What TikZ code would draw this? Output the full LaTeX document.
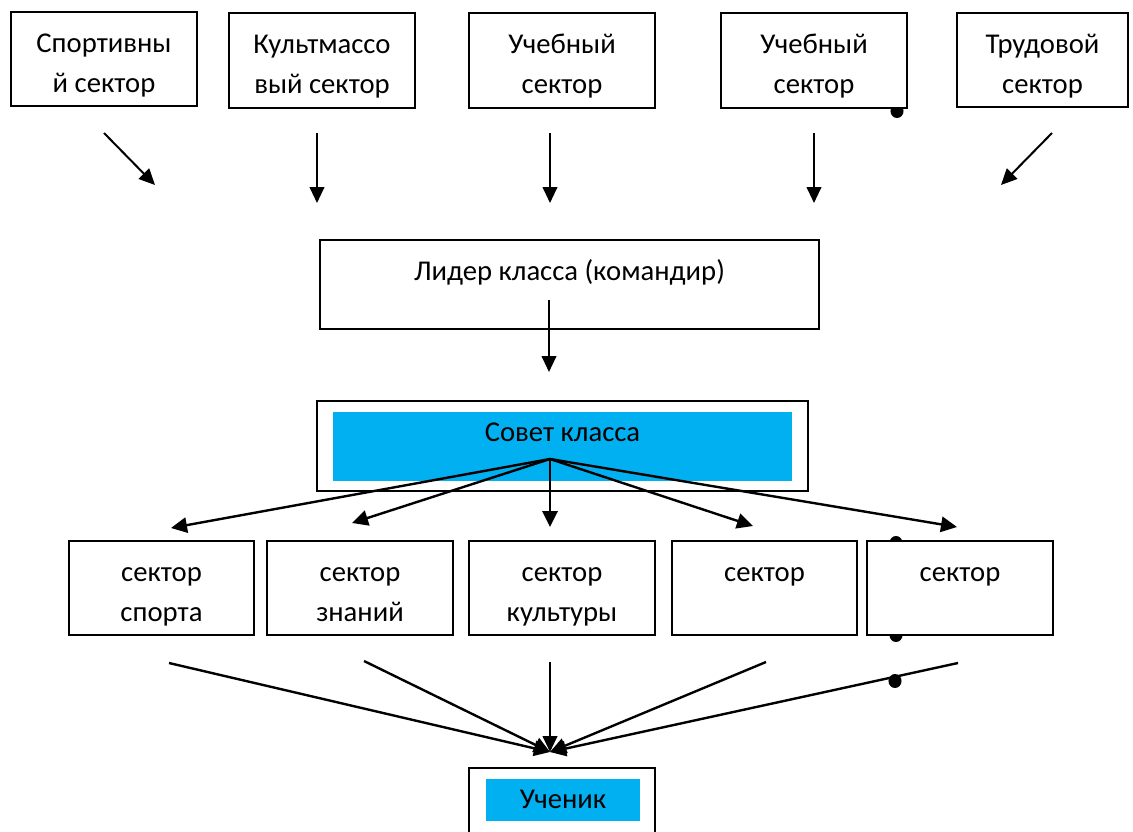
\documentclass[tikz,border=0pt]{standalone}
\usepackage{fontspec}
\setmainfont{Carlito}
\usetikzlibrary{arrows.meta}
\definecolor{wblue}{HTML}{00B0F0}
\newcommand{\boxtxt}[4]{\parbox[c][#2][t]{#1}{\centering\rule{0pt}{#3}#4\par}}
\tikzset{
  sbox/.style={draw, line width=1pt, fill=white, inner sep=0pt},
  bluebox/.style={fill=wblue, inner sep=0pt},
  arr/.style={line width=1.5pt, -{Triangle[length=12pt,width=11pt]}},
  fanarr/.style={line width=1.8pt, -{Triangle[length=12pt,width=11.5pt]}}
}
\begin{document}
\begin{tikzpicture}[x=0.75pt,y=-0.75pt,font=\fontsize{21.5}{30}\selectfont]
\useasboundingbox (0,0) rectangle (1133,832);
\clip (0,0) rectangle (1133,832);
% dots (behind boxes)
\fill (897,111) ellipse [x radius=4.9pt, y radius=5.25pt];
\fill (896,543) ellipse [x radius=4.9pt, y radius=5.25pt];
\fill (896,635) ellipse [x radius=4.9pt, y radius=5.25pt];
\fill (895,681) ellipse [x radius=4.9pt, y radius=5.25pt];
% top row
\node[sbox] (t1) at (104,59) {\boxtxt{139.5pt}{70.5pt}{30.5pt}{Спортивны\\й сектор}};
\node[sbox] (t2) at (322,60.5) {\boxtxt{139.5pt}{71.25pt}{30.5pt}{Культмассо\\вый сектор}};
\node[sbox] (t3) at (562,60.5) {\boxtxt{139.5pt}{71.25pt}{30.5pt}{Учебный\\сектор}};
\node[sbox] (t4) at (814,60.5) {\boxtxt{139.5pt}{71.25pt}{30.5pt}{Учебный\\сектор}};
\node[sbox] (t5) at (1042.5,60) {\boxtxt{128.25pt}{70.5pt}{30.5pt}{Трудовой\\сектор}};
% leader
\node[sbox] (lead) at (569.5,284.5) {\boxtxt{374.25pt}{66.75pt}{30pt}{Лидер класса (командир)}};
% council
\node[sbox] (sov) at (562.5,446) {\boxtxt{368.25pt}{67.5pt}{0pt}{}};
\node[bluebox] (sovb) at (562.5,446.5) {\boxtxt{344.25pt}{51.75pt}{22pt}{Совет класса}};
% middle row
\node[sbox] (m1) at (161.5,588) {\boxtxt{138.75pt}{70.5pt}{30pt}{сектор\\спорта}};
\node[sbox] (m2) at (360,588) {\boxtxt{139.5pt}{70.5pt}{30pt}{сектор\\знаний}};
\node[sbox] (m3) at (562,588) {\boxtxt{139.5pt}{70.5pt}{30pt}{сектор\\культуры}};
\node[sbox] (m4) at (764.5,588) {\boxtxt{138.75pt}{70.5pt}{30pt}{сектор}};
\node[sbox] (m5) at (960,588) {\boxtxt{139.5pt}{70.5pt}{30pt}{сектор}};
% pupil
\node[sbox] (pup) at (562,809) {\boxtxt{139.5pt}{61.5pt}{0pt}{}};
\node[bluebox] (pupb) at (563,800) {\boxtxt{115.5pt}{31.5pt}{21.75pt}{Ученик}};
% coordinates for free arrow ends
\coordinate (a1s) at (104,133); \coordinate (a1e) at (155,185);
\coordinate (a2s) at (317,133); \coordinate (a2e) at (317,203);
\coordinate (a3s) at (550,133); \coordinate (a3e) at (550,203);
\coordinate (a4s) at (814,133); \coordinate (a4e) at (814,203);
\coordinate (a5s) at (1052,133); \coordinate (a5e) at (1001,185);
\coordinate (ls) at (549,300); \coordinate (le) at (549,372);
\coordinate (fan) at (550,459);
\coordinate (f1) at (171,528); \coordinate (f2) at (352,523);
\coordinate (f3) at (550,527); \coordinate (f4) at (753,526);
\coordinate (f5) at (957,527);
\coordinate (b1) at (169,663); \coordinate (b2) at (364,661);
\coordinate (b3) at (550,662); \coordinate (b4) at (766,662);
\coordinate (b5) at (958,663);
\coordinate (conv) at (550,752);
% arrows
\draw[arr] (a1s) -- (a1e);
\draw[arr] (a2s) -- (a2e);
\draw[arr] (a3s) -- (a3e);
\draw[arr] (a4s) -- (a4e);
\draw[arr] (a5s) -- (a5e);
\draw[arr] (ls) -- (le);
\foreach \t in {f1,f2,f3,f4,f5} \draw[fanarr] (fan) -- (\t);
\foreach \s in {b1,b2,b4,b5} \draw[fanarr] (\s) -- (conv);
\draw[arr] (b3) -- (conv);
\end{tikzpicture}
\end{document}
